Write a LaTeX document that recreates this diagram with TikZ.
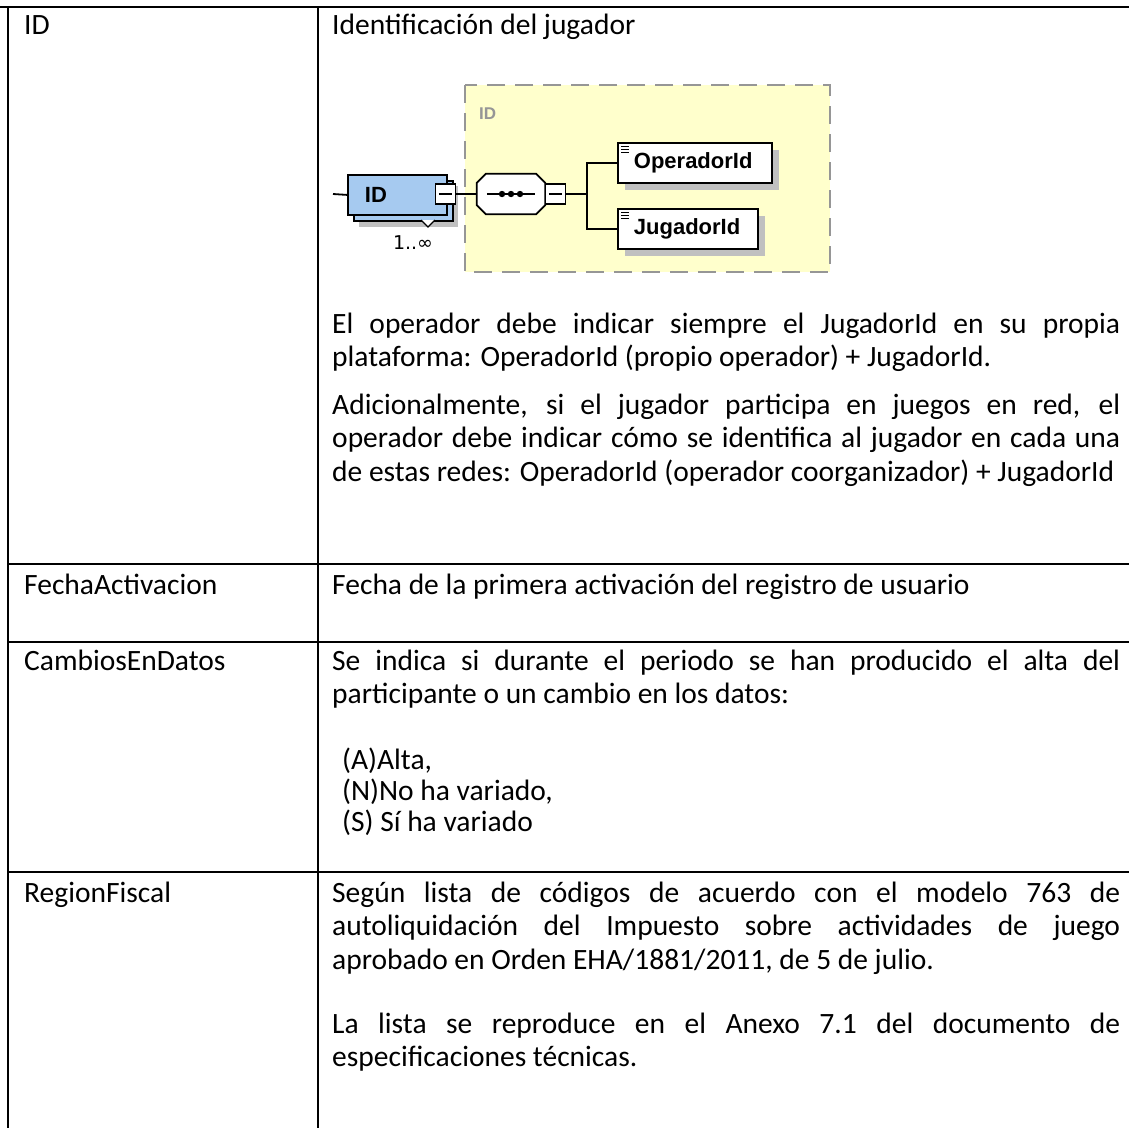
\documentclass[tikz,border=0pt]{standalone}
\usepackage{fontspec}
\setmainfont{Carlito}
\newfontfamily\diagfont{Liberation Sans}
\newfontfamily\symfont{DejaVu Sans}
\usetikzlibrary{positioning}

\definecolor{xsdyellow}{RGB}{255,255,204}
\definecolor{xsdblue}{RGB}{166,202,240}
\definecolor{xsdgray}{RGB}{150,150,150}
\definecolor{xsdshadow}{RGB}{192,192,192}

\tikzset{
  tabline/.style={line width=2pt},
  celltext/.style={anchor=base west, inner sep=0pt, font=\fontsize{29.5}{33.7}\selectfont},
  parabox/.style={celltext, text width=788pt, align=justify},
  listtext/.style={celltext, text width=600pt, font=\fontsize{29.5}{31}\selectfont, align=flush left},
  conn/.style={line width=1.8pt},
  xsdbox/.style={draw=black, line width=1.8pt, fill=white, minimum height=40pt,
    anchor=north west, inner ysep=0pt, align=left, font=\diagfont\bfseries\fontsize{22}{24}\selectfont},
  minusbox/.style={draw=black, line width=1.5pt, fill=white, minimum width=20pt,
    minimum height=20pt, inner sep=0pt},
  shadowfill/.style={fill=xsdshadow, draw=none},
}

\begin{document}
\begin{tikzpicture}[x=1pt, y=-1pt]
\useasboundingbox (0,0) rectangle (1129,1128);

% table rules
\draw[tabline] (0,7) -- (1129,7);
\draw[tabline] (8,7) -- (8,1128);
\draw[tabline] (318,7) -- (318,1128);
\draw[tabline] (8,564) -- (1129,564);
\draw[tabline] (8,642) -- (1129,642);
\draw[tabline] (8,872) -- (1129,872);

% first column
\node[celltext] (kid) at (24,34) {ID};
\node[celltext] (kfecha) at (24,594) {FechaActivacion};
\node[celltext] (kcambios) at (24,670) {CambiosEnDatos};
\node[celltext] (kregion) at (24,902) {RegionFiscal};

% second column
\node[celltext] (did) at (332,34) {Identificación del jugador};
\node[parabox] (dop) at (332,333) {El operador debe indicar siempre el JugadorId en su propia\linebreak
  plataforma: OperadorId (propio operador) + JugadorId.};
\node[parabox] (dred) at (332,414) {Adicionalmente, si el jugador participa en juegos en red, el\linebreak
  operador debe indicar cómo se identifica al jugador en cada una\linebreak
  de estas redes: OperadorId (operador coorganizador) + JugadorId};
\node[celltext] (dfecha) at (332,594) {Fecha de la primera activación del registro de usuario};
\node[parabox] (dcambios) at (332,670) {Se indica si durante el periodo se han producido el alta del\linebreak
  participante o un cambio en los datos:};
\node[listtext] (dlista) at (342,769) {(A)Alta,\\(N)No ha variado,\\(S) Sí ha variado};
\node[parabox] (dregion) at (332,902) {Según lista de códigos de acuerdo con el modelo 763 de\linebreak
  autoliquidación del Impuesto sobre actividades de juego\linebreak
  aprobado en Orden EHA/1881/2011, de 5 de julio.};
\node[parabox] (danexo) at (332,1033) {La lista se reproduce en el Anexo 7.1 del documento de\linebreak
  especificaciones técnicas.};

% xsd diagram
\draw[draw=xsdgray, fill=xsdyellow, line width=1.8pt, dash pattern=on 18pt off 10pt]
  (465,85) rectangle (830,272);
\node[anchor=base west, inner sep=0pt, text=xsdgray, font=\diagfont\bfseries\fontsize{17}{19}\selectfont]
  (typelbl) at (479,119) {ID};

\coordinate (in) at (333,194);
\fill[shadowfill] (359,186) rectangle (458,227);
\node[xsdbox, fill=xsdblue, minimum width=99pt, inner xsep=0pt] (idback) at (353,180) {};
\node[xsdbox, fill=xsdblue, text width=81pt, inner xsep=9pt] (id) at (347,174) {\hspace*{8pt}ID};
\node[minusbox] (idminus) at (445.5,194) {};
\draw[line width=1.5pt] ([xshift=4pt]idminus.west) -- ([xshift=-4pt]idminus.east);
\draw[fill=white, line width=1.2pt] (421,220) -- (428,227) -- (435,220);
\node[font=\symfont\fontsize{19}{21}\selectfont, inner sep=0pt] (card) at (413,243) {1..∞};

% sequence compositor
\node[minimum width=68pt, minimum height=40pt, inner sep=0pt] (seq) at (511,194) {};
\fill[shadowfill, xshift=6pt, yshift=-6pt]
  ([xshift=9pt]seq.north west) -- ([xshift=-9pt]seq.north east) -- ([yshift=-9pt]seq.north east)
  -- ([yshift=9pt]seq.south east) -- ([xshift=-9pt]seq.south east) -- ([xshift=9pt]seq.south west)
  -- ([yshift=9pt]seq.south west) -- ([yshift=-9pt]seq.north west) -- cycle;
\draw[fill=white, line width=1.8pt]
  ([xshift=9pt]seq.north west) -- ([xshift=-9pt]seq.north east) -- ([yshift=-9pt]seq.north east)
  -- ([yshift=9pt]seq.south east) -- ([xshift=-9pt]seq.south east) -- ([xshift=9pt]seq.south west)
  -- ([yshift=9pt]seq.south west) -- ([yshift=-9pt]seq.north west) -- cycle;
\draw[line width=1.5pt] ([xshift=10pt]seq.west) -- ([xshift=-10pt]seq.east);
\foreach \dx in {-9,0,9}
  \fill ([xshift=\dx pt]seq.center) circle (3.2pt);
\node[minusbox] (seqminus) at (555.5,194) {};
\draw[line width=1.5pt] ([xshift=4pt]seqminus.west) -- ([xshift=-4pt]seqminus.east);
\coordinate (fork) at (587,194);

% child elements
\fill[shadowfill] (625,150) rectangle (779,190);
\fill[shadowfill] (625,216) rectangle (765,256);
\node[xsdbox, minimum width=154pt, text width=138pt, inner xsep=0pt] (opid) at (617,142) {\hspace*{8pt}OperadorId};
\node[xsdbox, minimum width=140pt, text width=124pt, inner xsep=0pt] (jugid) at (617,208) {\hspace*{8pt}JugadorId};
\foreach \elem in {opid,jugid}
  \foreach \dy in {4,7,10}
    \draw[line width=1pt] ([xshift=4pt,yshift=-\dy pt]\elem.north west) -- ++(8,0);

% connectors
\draw[conn] (in) -- (id.west);
\draw[conn] (idminus.east) -- (seq.west);
\draw[conn] (seqminus.east) -- (fork);
\draw[conn] (fork) |- (opid.west);
\draw[conn] (fork) |- (jugid.west);
\end{tikzpicture}
\end{document}
